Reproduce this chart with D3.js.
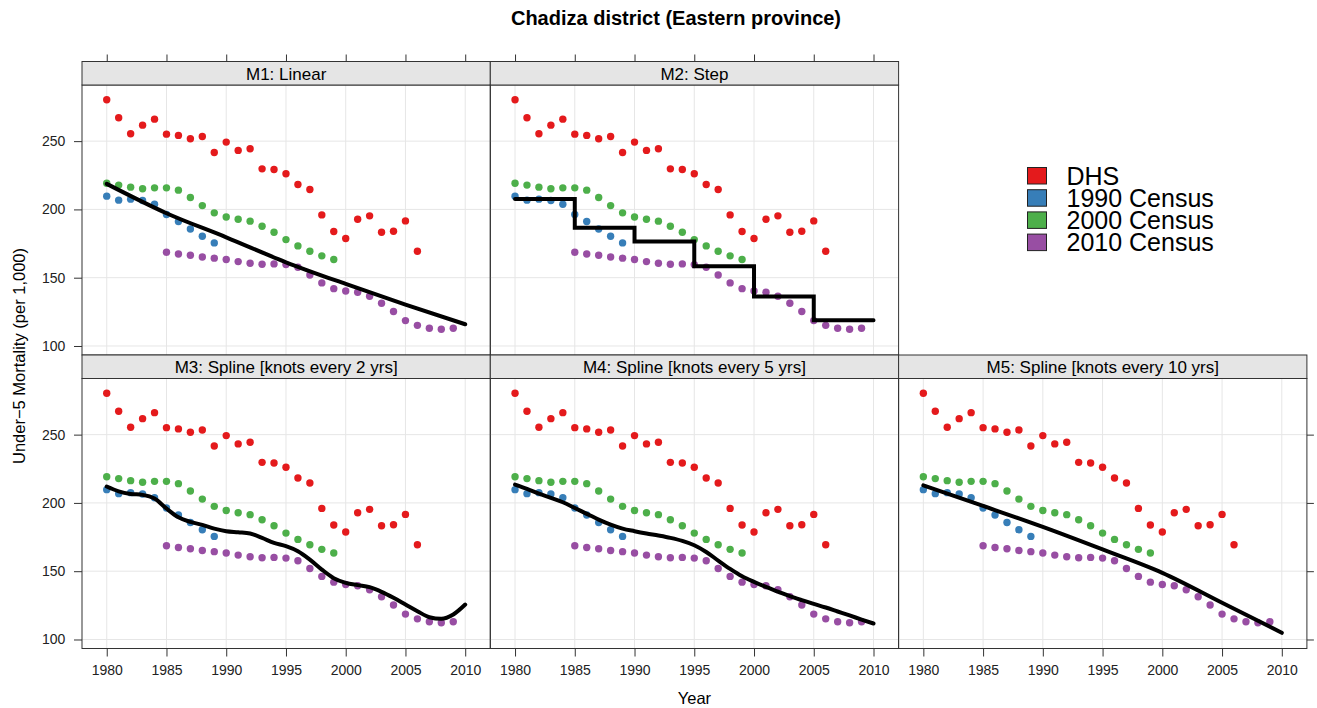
<!DOCTYPE html>
<html>
<head>
<meta charset="utf-8">
<script src="https://cdn.jsdelivr.net/npm/d3@7"></script>
<style>
  body { margin: 0; background: #fff; }
  svg { display: block; font-family: "Liberation Sans", Arial, sans-serif; }
</style>
</head>
<body>
<svg id="chart" width="1317" height="708"></svg>
<script>
// Under-5 mortality estimates, Chadiza district
const seriesNames = ["DHS", "1990 Census", "2000 Census", "2010 Census"];
const seriesColors = ["#E41A1C", "#377EB8", "#4DAF4A", "#984EA3"];

const dhsStart = 1980;
const dhsValues = [280.3, 267.1, 255.4, 261.7, 266.1, 255.1, 254.2, 251.7, 253.4, 241.7,
                   249.3, 243.2, 244.4, 229.7, 229.2, 226.1, 218.2, 214.6, 196.0, 183.8,
                   178.7, 192.8, 195.3, 183.3, 184.0, 191.6, 169.4];
const census1990Start = 1980;
const census1990Values = [209.7, 206.8, 207.5, 206.5, 203.8, 196.3, 191.1, 185.7, 180.4, 175.5];
const census2000Start = 1980;
const census2000Values = [219.2, 217.8, 216.3, 215.1, 215.8, 215.8, 214.1, 208.7, 202.8, 197.5,
                          194.5, 192.8, 191.4, 187.7, 183.3, 177.9, 173.3, 169.4, 166.0, 163.3];
const census2010Start = 1985;
const census2010Values = [168.6, 167.4, 166.4, 165.2, 164.3, 163.3, 161.8, 160.6, 159.9, 160.1,
                          159.6, 157.7, 152.0, 146.2, 142.0, 140.3, 139.3, 136.4, 131.3, 125.2,
                          118.6, 115.1, 113.0, 112.2, 113.0];

// Fitted trends per model
const modelTitles = ["M1: Linear", "M2: Step", "M3: Spline [knots every 2 yrs]",
                     "M4: Spline [knots every 5 yrs]", "M5: Spline [knots every 10 yrs]"];
const m1Years = [1980, 1985, 1990, 1995, 2000, 2005, 2010];
const m1Fit = [218.7, 197.2, 179.6, 161.3, 145.4, 130.3, 115.9];
const m2Breaks = [1980, 1985, 1990, 1995, 2000, 2005, 2010];
const m2Levels = [207.7, 186.5, 176.5, 158.4, 136.2, 118.8];
const m3Years = [1980, 1981, 1982, 1983, 1984, 1985, 1986, 1987, 1988, 1989, 1990, 1991, 1992,
                 1993, 1994, 1995, 1996, 1997, 1998, 1999, 2000, 2001, 2002, 2003, 2004, 2005,
                 2006, 2007, 2008, 2009, 2010];
const m3Fit = [212.0, 208.5, 206.6, 205.9, 203.2, 195.9, 189.5, 186.1, 183.9, 181.2, 179.3, 178.5,
               177.6, 174.4, 170.7, 168.3, 164.6, 158.5, 151.2, 144.9, 141.5, 139.8, 138.3, 134.9,
               130.5, 125.6, 120.7, 116.3, 115.1, 118.3, 125.6];
const m4Years = m3Years;
const m4Fit = [213.4, 210.2, 206.8, 203.7, 200.5, 196.3, 192.0, 187.8, 184.1, 181.2, 179.3, 177.6,
               176.1, 174.4, 172.2, 169.0, 164.1, 157.8, 151.7, 146.3, 142.2, 138.5, 135.1, 131.7,
               128.8, 126.1, 123.4, 120.5, 117.6, 114.6, 111.7];
const m5Years = [1980, 1985, 1990, 1995, 2000, 2005, 2010];
const m5Fit = [212.9, 197.8, 182.4, 165.9, 148.8, 126.9, 104.9];

const xTicks = [1980, 1985, 1990, 1995, 2000, 2005, 2010];
const yTicks = [100, 150, 200, 250];

// ---- layout ----
const svg = d3.select("#chart");
const panelLeft = 82, panelW = 408.3, plotH = 270, stripH = 23.5;
const rowTop = [61.5, 355];
const gridColor = "#e6e6e6", frameColor = "#333";
const tickFont = 14;

const x = d3.scaleLinear().domain([1977.93, 2012.1]).range([0, panelW]);
const y = d3.scaleLinear().domain([93.4, 291.1]).range([plotH, 0]);

const toPts = (start, vals) => vals.map((v, i) => [start + i, v]);
const observed = [
  toPts(dhsStart, dhsValues),
  toPts(census1990Start, census1990Values),
  toPts(census2000Start, census2000Values),
  toPts(census2010Start, census2010Values)
];

const stepPts = [];
m2Levels.forEach((lv, i) => { stepPts.push([m2Breaks[i], lv]); stepPts.push([m2Breaks[i + 1], lv]); });

const fits = [
  { pts: m1Years.map((yr, i) => [yr, m1Fit[i]]), curve: d3.curveMonotoneX },
  { pts: stepPts, curve: d3.curveLinear },
  { pts: m3Years.map((yr, i) => [yr, m3Fit[i]]), curve: d3.curveMonotoneX },
  { pts: m4Years.map((yr, i) => [yr, m4Fit[i]]), curve: d3.curveMonotoneX },
  { pts: m5Years.map((yr, i) => [yr, m5Fit[i]]), curve: d3.curveMonotoneX }
];

const panels = [
  { row: 0, col: 0 }, { row: 0, col: 1 },
  { row: 1, col: 0 }, { row: 1, col: 1 }, { row: 1, col: 2 }
];

svg.append("text")
  .attr("x", 676).attr("y", 25)
  .attr("text-anchor", "middle")
  .attr("font-size", 20).attr("font-weight", "bold")
  .text("Chadiza district (Eastern province)");

const styleTicks = ax => {
  ax.select(".domain").remove();
  ax.selectAll("line").attr("stroke", frameColor);
  ax.selectAll("text").attr("font-size", tickFont).attr("fill", "#222")
    .attr("font-family", "Liberation Sans, Arial, sans-serif");
};

panels.forEach((p, k) => {
  const px = panelLeft + p.col * panelW;
  const sy = rowTop[p.row];
  const py = sy + stripH;
  const g = svg.append("g").attr("transform", `translate(${px},${py})`);

  // strip
  svg.append("rect").attr("x", px).attr("y", sy).attr("width", panelW).attr("height", stripH)
    .attr("fill", "#e5e5e5").attr("stroke", frameColor).attr("stroke-width", 1);
  svg.append("text").attr("x", px + panelW / 2).attr("y", sy + 18.3)
    .attr("text-anchor", "middle").attr("font-size", 17).attr("fill", "#000")
    .text(modelTitles[k]);

  const clipId = "clip" + k;
  g.append("clipPath").attr("id", clipId)
    .append("rect").attr("width", panelW).attr("height", plotH);
  const body = g.append("g").attr("clip-path", `url(#${clipId})`);

  // grid
  body.selectAll(".gx").data(xTicks).join("line")
    .attr("x1", d => x(d)).attr("x2", d => x(d)).attr("y1", 0).attr("y2", plotH)
    .attr("stroke", gridColor).attr("stroke-width", 1);
  body.selectAll(".gy").data(yTicks).join("line")
    .attr("y1", d => y(d)).attr("y2", d => y(d)).attr("x1", 0).attr("x2", panelW)
    .attr("stroke", gridColor).attr("stroke-width", 1);

  // observed points
  observed.forEach((pts, si) => {
    body.append("g").selectAll("circle").data(pts).join("circle")
      .attr("cx", d => x(d[0])).attr("cy", d => y(d[1])).attr("r", 3.7)
      .attr("fill", seriesColors[si]);
  });

  // fitted trend
  body.append("path").datum(fits[k].pts)
    .attr("d", d3.line().x(d => x(d[0])).y(d => y(d[1])).curve(fits[k].curve))
    .attr("fill", "none").attr("stroke", "#000").attr("stroke-width", 4)
    .attr("stroke-linejoin", "miter").attr("stroke-linecap", "round");

  // frame
  g.append("rect").attr("width", panelW).attr("height", plotH)
    .attr("fill", "none").attr("stroke", frameColor).attr("stroke-width", 1);

  // axes
  if (p.col === 0) {
    g.append("g").call(d3.axisLeft(y).tickValues(yTicks).tickSize(8).tickPadding(8.7)).call(styleTicks);
  }
  if (p.row === 1) {
    g.append("g").attr("transform", `translate(0,${plotH})`)
      .call(d3.axisBottom(x).tickValues(xTicks).tickFormat(d3.format("d")).tickSize(8).tickPadding(9))
      .call(styleTicks);
  }
  if (p.row === 0) {
    svg.append("g").attr("transform", `translate(${px},${sy})`)
      .call(d3.axisTop(x).tickValues(xTicks).tickFormat("").tickSize(7)).call(styleTicks);
  }
  if (p.col === 2) {
    g.append("g").attr("transform", `translate(${panelW},0)`)
      .call(d3.axisRight(y).tickValues(yTicks).tickFormat("").tickSize(7)).call(styleTicks);
  }
});

// axis titles
svg.append("text").attr("x", panelLeft + 1.5 * panelW).attr("y", 704)
  .attr("text-anchor", "middle").attr("font-size", 16.5).text("Year");
svg.append("text").attr("transform", "translate(24.5,356) rotate(-90)")
  .attr("text-anchor", "middle").attr("font-size", 16.5).text("Under\u22125 Mortality (per 1,000)");

// legend
const legend = svg.append("g").attr("transform", "translate(1027.5,167.5)");
seriesNames.forEach((name, i) => {
  const row = legend.append("g").attr("transform", `translate(0,${i * 22.2})`);
  row.append("rect").attr("width", 19).attr("height", 16.5)
    .attr("fill", seriesColors[i]).attr("stroke", "#222").attr("stroke-width", 1);
  row.append("text").attr("x", 39).attr("y", 17).attr("font-size", 25).attr("fill", "#000").text(name);
});
</script>
</body>
</html>
